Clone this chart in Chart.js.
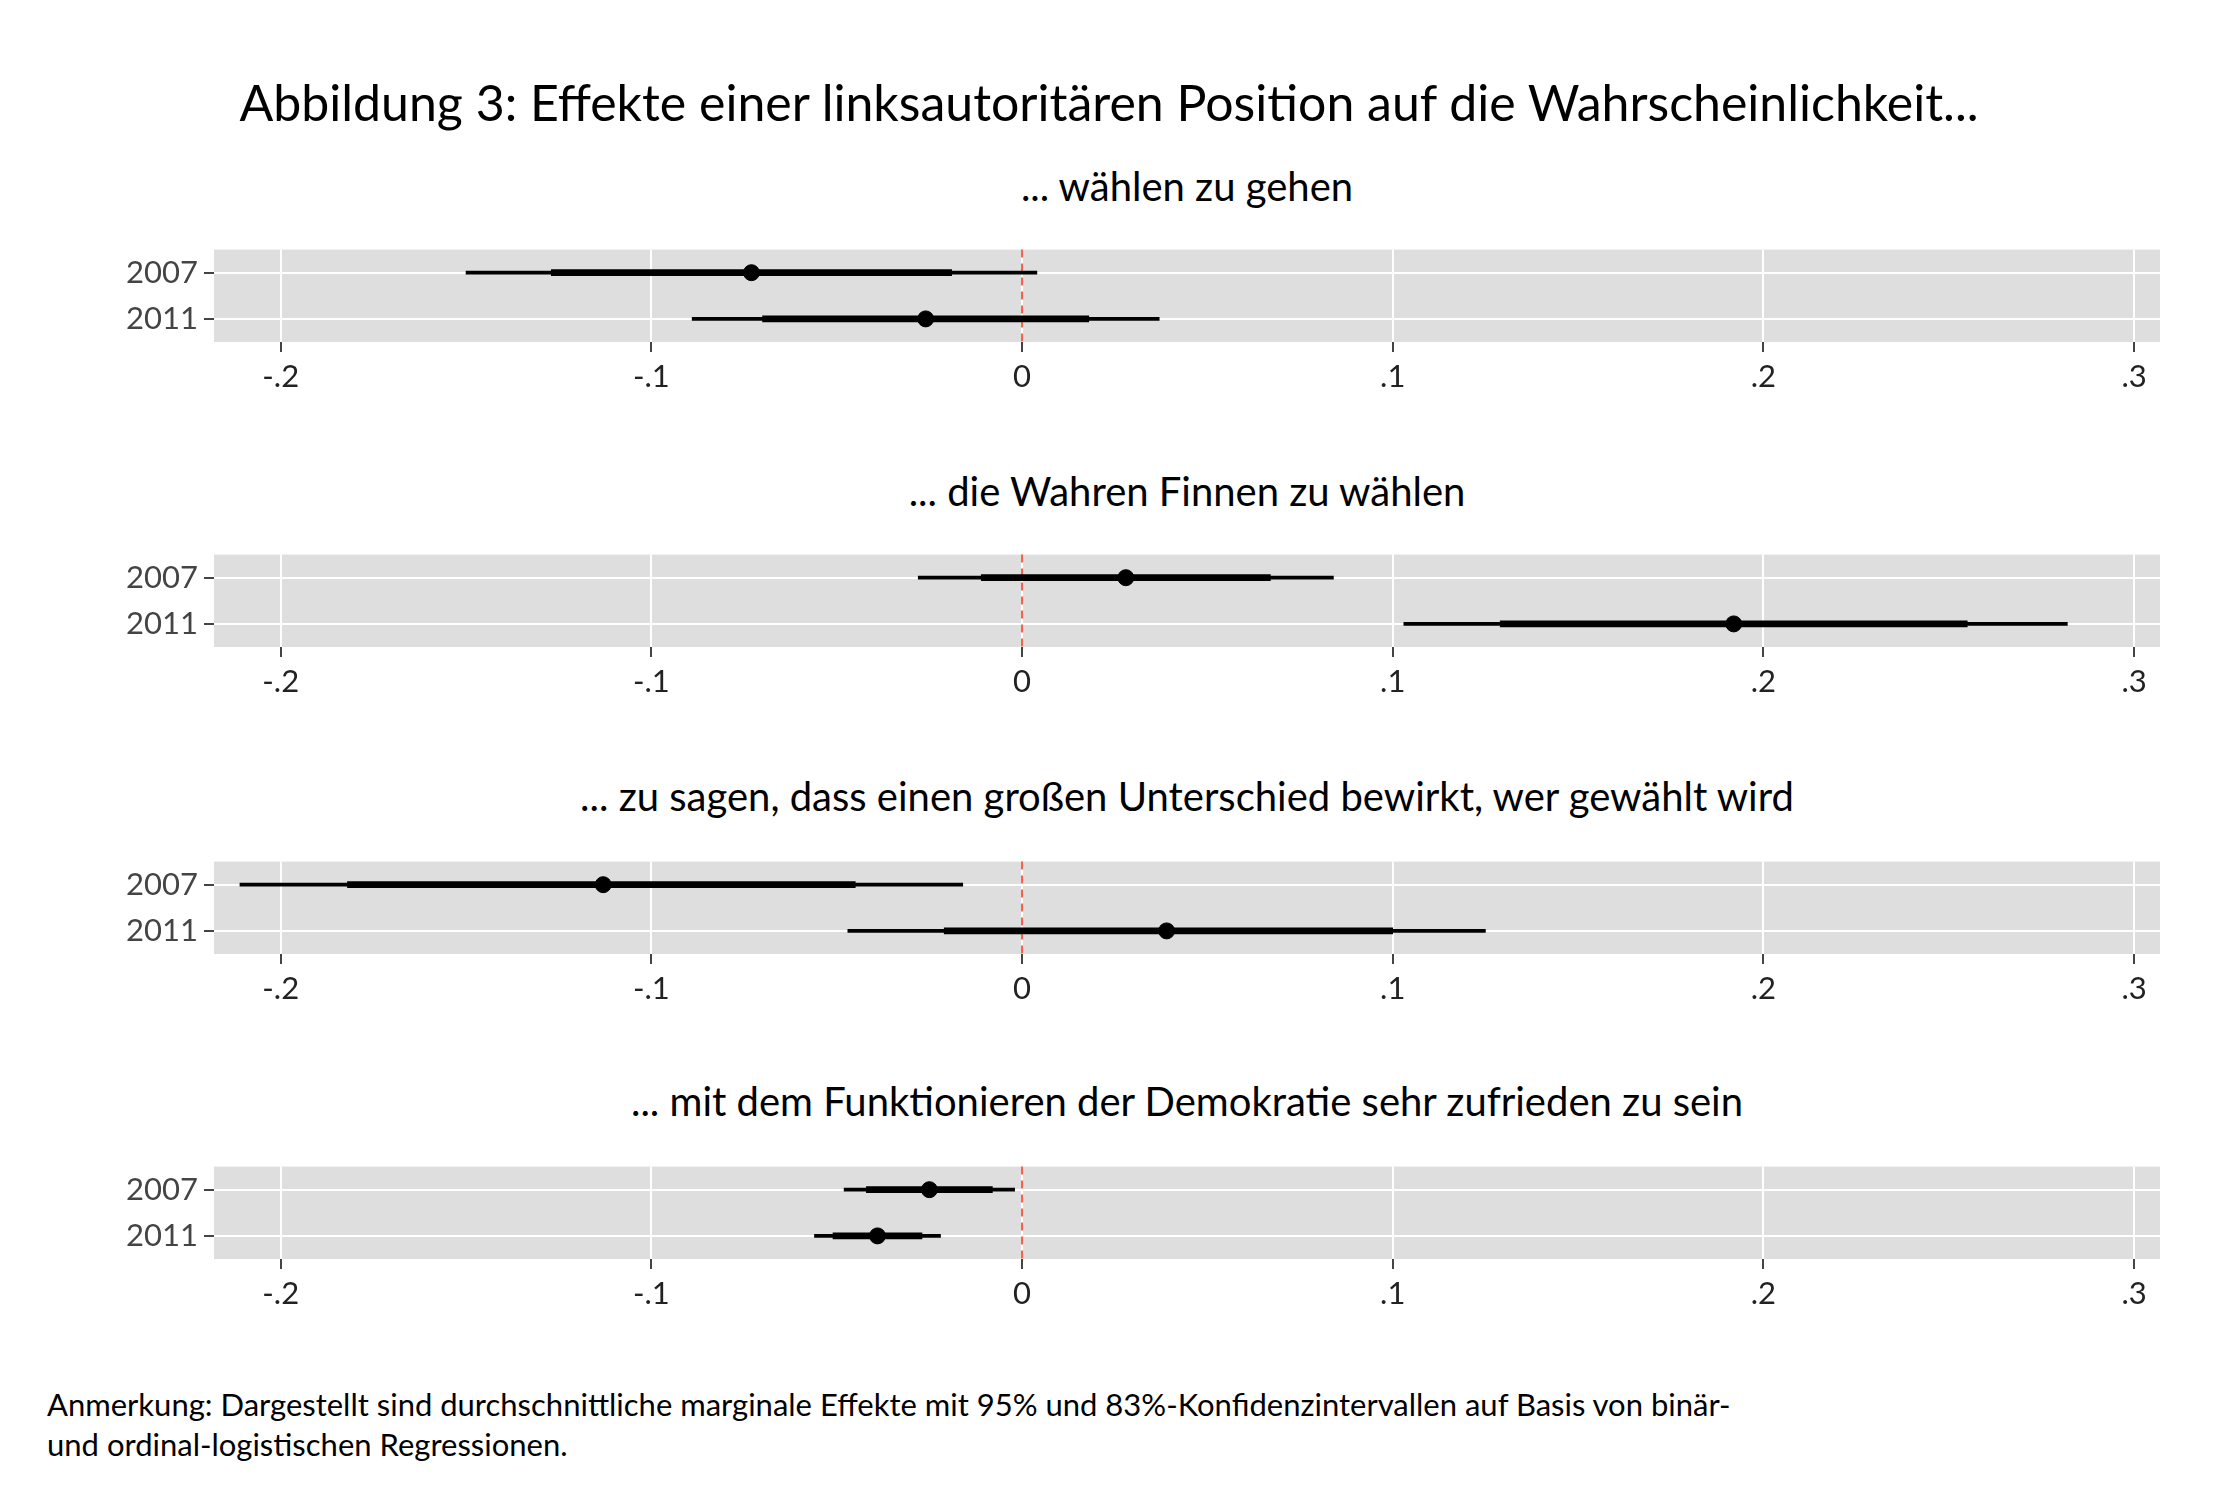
<!DOCTYPE html>
<html lang="de">
<head>
<meta charset="UTF-8">
<title>Abbildung 3</title>
<script src="https://cdn.jsdelivr.net/npm/chart.js"></script>
<style>
    body { margin: 0; background: #fff; font-family: Lato, "Open Sans", sans-serif; color: #000; }
    #page { position: relative; width: 2218px; height: 1500px; }
    .title { position: absolute; left: 0; width: 2218px; text-align: center; font-size: 50px; top: 72px; }
    .ptitle { position: absolute; left: 214px; width: 1946px; text-align: center; font-size: 40px; }
    .panel { position: absolute; left: 100px; width: 2090px; height: 197px; }
    .note { position: absolute; left: 47px; top: 1384px; font-size: 31px; line-height: 40px; }
</style>
</head>
<body>
<div id="page">
    <div class="title">Abbildung 3: Effekte einer linksautoritären Position auf die Wahrscheinlichkeit...</div>
    <div class="note">Anmerkung: Dargestellt sind durchschnittliche marginale Effekte mit 95% und 83%-Konfidenzintervallen auf Basis von binär-<br>und ordinal-logistischen Regressionen.</div>
</div>
<script>
    const years = ['2007', '2011'];
    const panelTitles = [
        '... wählen zu gehen',
        '... die Wahren Finnen zu wählen',
        '... zu sagen, dass einen großen Unterschied bewirkt, wer gewählt wird',
        '... mit dem Funktionieren der Demokratie sehr zufrieden zu sein'
    ];
    // per panel: [2007, 2011]
    const estimates = [[-0.073, -0.026], [0.028, 0.192], [-0.113, 0.039], [-0.025, -0.039]];
    const ci95 = [
        [[-0.150, 0.004], [-0.089, 0.037]],
        [[-0.028, 0.084], [0.103, 0.282]],
        [[-0.211, -0.016], [-0.047, 0.125]],
        [[-0.048, -0.002], [-0.056, -0.022]]
    ];
    const ci83 = [
        [[-0.127, -0.019], [-0.070, 0.018]],
        [[-0.011, 0.067], [0.129, 0.255]],
        [[-0.182, -0.045], [-0.021, 0.100]],
        [[-0.042, -0.008], [-0.051, -0.027]]
    ];
    const xTicks = [-0.2, -0.1, 0, 0.1, 0.2, 0.3];
    const tickLabels = ['-.2', '-.1', '0', '.1', '.2', '.3'];

    const panelTops = [225, 530, 837, 1142];
    const titleTops = [162, 467, 772, 1077];

    const bgPlugin = {
        id: 'bg',
        beforeDraw(chart) {
            const a = chart.chartArea, ctx = chart.ctx;
            ctx.save();
            ctx.fillStyle = '#dedede';
            ctx.fillRect(a.left, a.top, a.right - a.left, a.bottom - a.top);
            ctx.restore();
        },
        beforeDatasetsDraw(chart) {
            const a = chart.chartArea, ctx = chart.ctx;
            const x0 = chart.scales.x.getPixelForValue(0);
            ctx.save();
            ctx.strokeStyle = '#f0604a';
            ctx.lineWidth = 2;
            ctx.setLineDash([8, 6]);
            ctx.beginPath();
            ctx.moveTo(x0, a.top);
            ctx.lineTo(x0, a.bottom);
            ctx.stroke();
            ctx.restore();
        }
    };

    const page = document.getElementById('page');
    panelTitles.forEach((t, i) => {
        const tt = document.createElement('div');
        tt.className = 'ptitle';
        tt.style.top = titleTops[i] + 'px';
        tt.textContent = t;
        page.appendChild(tt);

        const box = document.createElement('div');
        box.className = 'panel';
        box.style.top = panelTops[i] + 'px';
        const cv = document.createElement('canvas');
        box.appendChild(cv);
        page.appendChild(box);

        new Chart(cv, {
            type: 'bar',
            data: {
                labels: years,
                datasets: [
                    { data: ci95[i], backgroundColor: '#000', barThickness: 3, grouped: false, order: 3 },
                    { data: ci83[i], backgroundColor: '#000', barThickness: 6, grouped: false, order: 2 },
                    {
                        type: 'scatter',
                        data: years.map((y, j) => ({ x: estimates[i][j], y: y })),
                        backgroundColor: '#000', borderColor: '#000',
                        pointRadius: 8, order: 1
                    }
                ]
            },
            options: {
                indexAxis: 'y',
                responsive: true,
                maintainAspectRatio: false,
                animation: false,
                layout: { padding: { top: 0, right: 30, bottom: 0, left: 0 } },
                plugins: { legend: { display: false }, tooltip: { enabled: false } },
                scales: {
                    x: {
                        type: 'linear',
                        min: -0.218,
                        max: 0.307,
                        afterBuildTicks: s => { s.ticks = xTicks.map(v => ({ value: v })); },
                        afterFit: s => { s.height = 80; },
                        ticks: {
                            callback: (v, k) => tickLabels[k],
                            color: '#222',
                            font: { family: 'Lato', size: 31 },
                            padding: 6
                        },
                        grid: { color: '#fff', lineWidth: 2, tickColor: '#444', tickLength: 10 },
                        border: { display: false }
                    },
                    y: {
                        type: 'category',
                        offset: true,
                        afterFit: s => { s.width = 114; },
                        ticks: { color: '#444', font: { family: 'Lato', size: 31 }, padding: 6 },
                        grid: { color: '#fff', lineWidth: 2, tickColor: '#444', tickLength: 10, offset: false },
                        border: { display: false }
                    }
                }
            },
            plugins: [bgPlugin]
        });
    });
</script>
</body>
</html>
